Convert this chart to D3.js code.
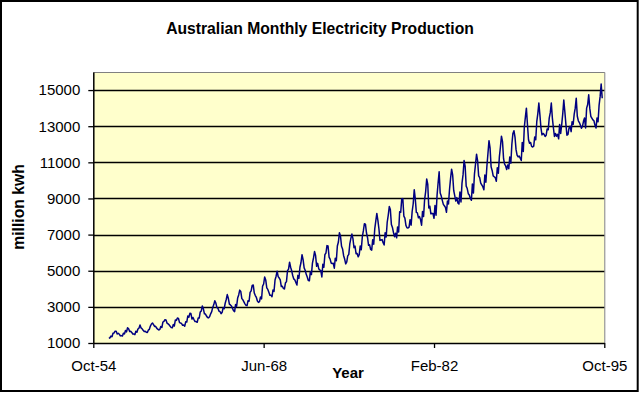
<!DOCTYPE html>
<html><head><meta charset="utf-8">
<script src="https://cdn.jsdelivr.net/npm/d3@7"></script>
<style>
body{margin:0;background:#fff;}
svg{display:block;font-family:"Liberation Sans",Arial,sans-serif;}
</style>
</head><body>
<svg id="chart" width="642" height="394"></svg>
<script>
const chartTitle = "Australian Monthly Electricity Production";
const yTitle = "million kwh";
const xTitle = "Year";
const startYear = 1956;
// Monthly production (million kwh), Jan 1956 – Aug 1995
const production = [
1254,1290,1379,1346,1535,1555,1655,1651,1500,1538,1486,1394,
1409,1387,1543,1502,1693,1616,1841,1787,1631,1649,1586,1500,
1497,1463,1648,1595,1777,1824,1994,1835,1787,1699,1633,1645,
1597,1577,1709,1756,1936,2052,2105,2016,1914,1925,1824,1765,
1721,1752,1914,1857,2159,2195,2287,2276,2096,2055,2004,1924,
1851,1839,2019,1937,2270,2251,2382,2364,2129,2110,2072,1980,
1995,1932,2171,2162,2489,2424,2641,2630,2324,2412,2284,2186,
2184,2144,2379,2383,2717,2774,3051,2891,2613,2600,2493,2410,
2390,2463,2616,2734,2970,3125,3342,3207,2964,2919,2764,2732,
2622,2698,2950,2895,3200,3408,3679,3473,3154,3107,3052,2918,
2786,2739,3125,3033,3486,3661,3927,3851,3456,3390,3280,3166,
3080,3069,3340,3310,3798,3883,4191,4213,3766,3628,3520,3322,
3250,3287,3552,3440,4153,4265,4655,4492,4051,3967,3807,3639,
3647,3560,3929,3858,4485,4697,4977,4675,4596,4491,4127,4144,
4014,3994,4320,4400,5002,5091,5471,5193,4997,4737,4546,4498,
4350,4206,4743,4582,5191,5457,5891,5618,5158,5030,4800,4654,
4453,4440,4945,4788,5425,5706,6061,5846,5242,5408,5114,5042,
5008,4657,5359,5193,5891,5981,6390,6366,5756,5640,5429,5398,
5413,5141,5695,5554,6369,6592,7107,6917,6353,6205,5830,5646,
5379,5489,5824,5907,6482,6795,7028,6776,6274,6362,5940,5958,
5769,5887,6367,6165,6868,7201,7601,7581,7090,6841,6408,6435,
6176,6138,6717,6470,7312,7763,8171,7788,7311,6679,6704,6724,
6552,6427,7105,6869,7683,8082,8555,8386,7553,7398,7112,6886,
7077,6820,7426,7143,8261,8240,8977,8991,8026,7911,7510,7381,
7366,7414,7824,7524,8279,8707,9486,8973,8231,8206,7927,7999,
7834,7521,8284,7999,8940,9381,10078,9796,8471,8572,8150,8168,
8166,7903,8606,8071,9178,9873,10476,9296,9131,8896,8672,8598,
8504,8238,8856,8700,9498,10113,10620,10303,9441,9160,8855,9047,
8755,8690,9358,8802,9849,10317,11100,10787,9681,9548,9265,9195,
9000,8900,9800,9300,10350,10900,11450,11100,10250,10150,9850,9750,
9650,9480,10300,9900,10800,11500,12200,11800,10750,10550,10250,10200,
10150,9950,10700,10400,11300,11850,12450,12150,11200,10900,10800,10600,
10850,10650,11300,10950,12000,12600,12750,12400,11700,11400,11300,11350,
11230,11100,12100,11600,12950,13500,14000,13100,12250,12060,12100,11880,
11850,11900,12400,12250,13250,13700,14280,13630,12900,12520,12600,12550,
12430,12500,12850,12800,13450,13750,14280,13450,12900,12430,12600,12450,
12550,12300,13100,12600,13100,13700,14450,13800,13100,12500,12550,12900,
13000,12700,13250,13100,13650,14000,14550,13550,13300,13200,13050,12890,
13000,13300,13450,12900,14000,14200,14740,14000,13550,13450,13350,13300,
13050,12900,13450,13250,14150,14650,15330,14550
];
const yTickValues = [1000,3000,5000,7000,9000,11000,13000,15000];
const xTickLabels = ["Oct-54","Jun-68","Feb-82","Oct-95"];

const svg = d3.select("#chart");
const plot = {left:93.3, right:604.3, top:72, bottom:343};

const parseTick = d3.utcParse("%b-%y");
const xTickDates = xTickLabels.map(s => {
  const d = parseTick(s);
  if (d.getUTCFullYear() > 2000) d.setUTCFullYear(d.getUTCFullYear() - 100);
  return d;
});
const x = d3.scaleUtc().domain([xTickDates[0], xTickDates[xTickDates.length-1]]).range([plot.left, plot.right]);
const y = d3.scaleLinear().domain([1000,16000]).range([plot.bottom, plot.top]);

const data = production.map((v,i) => ({date:new Date(Date.UTC(startYear, i, 1)), value:v}));

// outer border
svg.append("rect").attr("x",1).attr("y",1).attr("width",636.7).attr("height",390)
  .attr("fill","#fff").attr("stroke","#000").attr("stroke-width",2);

// plot area
svg.append("rect").attr("x",plot.left).attr("y",plot.top)
  .attr("width",plot.right-plot.left).attr("height",plot.bottom-plot.top)
  .attr("fill","#FFFFCC").attr("stroke","none");
svg.append("path")
  .attr("d",`M${plot.left},${plot.top+0.5}H${plot.right+0.5}V${plot.bottom}`)
  .attr("fill","none").attr("stroke","#808080").attr("stroke-width",1);

// gridlines
svg.append("g").selectAll("line").data(yTickValues.filter(v=>v>1000)).join("line")
  .attr("x1",plot.left).attr("x2",plot.right)
  .attr("y1",d=>Math.round(y(d))+0.5).attr("y2",d=>Math.round(y(d))+0.5)
  .attr("stroke","#000").attr("stroke-width",1.3);

// line
svg.append("path").datum(data)
  .attr("d", d3.line().x(d=>x(d.date)).y(d=>y(d.value)))
  .attr("fill","none").attr("stroke","#000080").attr("stroke-width",1.5)
  .attr("stroke-linejoin","round");

// axes
const yAxis = svg.append("g").attr("transform",`translate(${plot.left},0)`)
  .call(d3.axisLeft(y).tickValues(yTickValues).tickFormat(d3.format("d")).tickSize(5).tickSizeOuter(0).tickPadding(8));
const xAxis = svg.append("g").attr("transform",`translate(0,${plot.bottom})`)
  .call(d3.axisBottom(x).tickValues(xTickDates).tickFormat((d,i)=>xTickLabels[i]).tickSize(5).tickSizeOuter(0).tickPadding(12));
[yAxis,xAxis].forEach(g=>{
  g.select(".domain").attr("stroke","#000").attr("stroke-width",1.5);
  g.selectAll(".tick line").attr("stroke","#000").attr("stroke-width",1.3);
  g.selectAll(".tick text").attr("fill","#000").style("font-size","15px")
    .style("font-family","'Liberation Sans',Arial,sans-serif");
});

// titles
svg.append("text").attr("x",320).attr("y",34).attr("text-anchor","middle")
  .style("font-size","15.7px").style("font-weight","bold").text(chartTitle);
svg.append("text").attr("transform","translate(24,207) rotate(-90)").attr("text-anchor","middle")
  .style("font-size","15.7px").style("font-weight","bold").text(yTitle);
svg.append("text").attr("x",348).attr("y",378).attr("text-anchor","middle")
  .style("font-size","15px").style("font-weight","bold").text(xTitle);
</script>
</body></html>
